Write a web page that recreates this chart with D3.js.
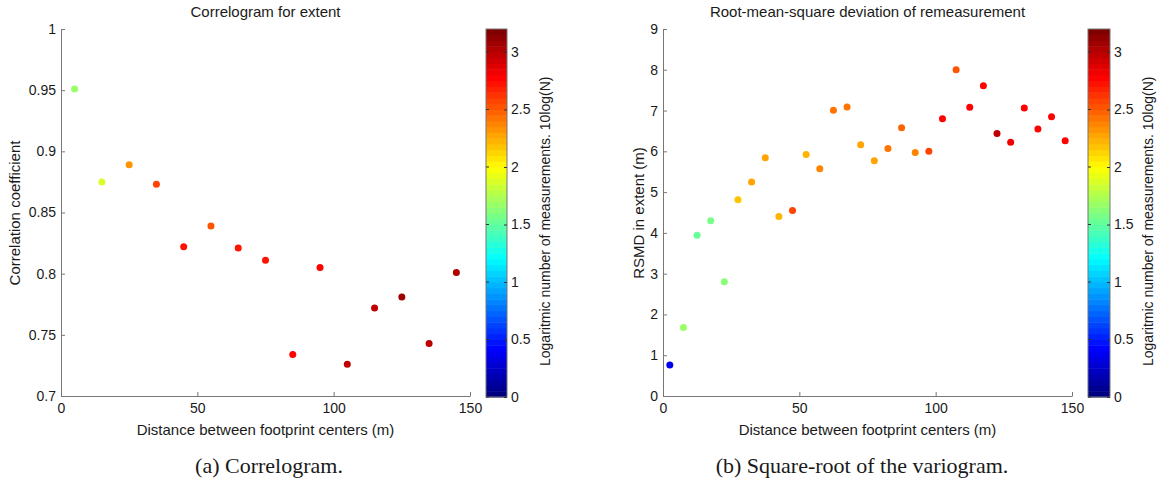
<!DOCTYPE html>
<html>
<head>
<meta charset="utf-8">
<script src="https://cdn.jsdelivr.net/npm/d3@7"></script>
<style>
  body { margin: 0; background: #fff; }
  svg text { font-family: "Liberation Sans", Arial, sans-serif; fill: #1a1a1a; }
  .caption { font-family: "Liberation Serif", "DejaVu Serif", serif; font-size: 22px; }
</style>
</head>
<body>
<svg id="fig" width="1163" height="491"></svg>
<script>
// (a) correlogram
var corrDist = [5, 15, 25, 35, 45, 55, 65, 75, 85, 95, 105, 115, 125, 135, 145];
var corrValue = [0.951, 0.875, 0.889, 0.873, 0.822, 0.839, 0.821, 0.811, 0.734, 0.805, 0.726, 0.772, 0.781, 0.743, 0.801];
var corrLogN = [1.68, 1.87, 2.32, 2.58, 2.7, 2.53, 2.7, 2.72, 2.76, 2.8, 2.96, 2.96, 3.08, 2.95, 3.0];

// (b) RMSD
var rmsdDist = [2.5, 7.5, 12.5, 17.5, 22.5, 27.5, 32.5, 37.5, 42.5, 47.5, 52.5, 57.5, 62.5, 67.5, 72.5,
                77.5, 82.5, 87.5, 92.5, 97.5, 102.5, 107.5, 112.5, 117.5, 122.5, 127.5, 132.5, 137.5, 142.5, 147.5];
var rmsdValue = [0.76, 1.68, 3.94, 4.30, 2.80, 4.81, 5.25, 5.84, 4.40, 4.55, 5.92, 5.57, 7.01, 7.09, 6.16,
                 5.77, 6.07, 6.58, 5.97, 6.00, 6.80, 8.00, 7.08, 7.61, 6.44, 6.22, 7.06, 6.55, 6.85, 6.26];
var rmsdLogN = [0.38, 1.68, 1.52, 1.55, 1.65, 2.16, 2.28, 2.3, 2.22, 2.58, 2.22, 2.4, 2.43, 2.43, 2.28,
                2.27, 2.43, 2.47, 2.38, 2.58, 2.75, 2.55, 2.75, 2.75, 2.95, 2.82, 2.78, 2.75, 2.8, 2.77];

var xTicks = [0, 50, 100, 150];
var corrTicks = [0.7, 0.75, 0.8, 0.85, 0.9, 0.95, 1];
var rmsdTicks = [0, 1, 2, 3, 4, 5, 6, 7, 8, 9];
var cbarTicks = [0, 0.5, 1, 1.5, 2, 2.5, 3];
var cbarDomain = [0, 3.2];

var svg = d3.select("#fig");

// matlab jet, 64 levels
function jet(v) {
  var n = 64;
  var i = Math.min(n - 1, Math.max(0, Math.floor((v - cbarDomain[0]) / (cbarDomain[1] - cbarDomain[0]) * n)));
  var t = i / (n - 1);
  function c(x) { return Math.round(255 * Math.max(0, Math.min(1, x))); }
  return d3.rgb(c(1.5 - Math.abs(4 * t - 3)), c(1.5 - Math.abs(4 * t - 2)), c(1.5 - Math.abs(4 * t - 1)));
}

function panel(p) {
  var x = d3.scaleLinear().domain([0, 150]).range([p.left, p.right]);
  var y = d3.scaleLinear().domain(p.yDomain).range([396, 29]);
  var g = svg.append("g");

  var xa = g.append("g")
    .attr("transform", "translate(0,396)")
    .call(d3.axisBottom(x).tickValues(xTicks).tickSizeInner(-4).tickSizeOuter(0).tickPadding(7).tickFormat(d3.format("d")));
  var ya = g.append("g")
    .attr("transform", "translate(" + p.left + ",0)")
    .call(d3.axisLeft(y).tickValues(p.yTicks).tickSizeInner(-4).tickSizeOuter(0).tickPadding(5).tickFormat(function(d) { return String(+d.toFixed(2)); }));
  [xa, ya].forEach(function(a) {
    a.selectAll("path, line").attr("stroke", "#777");
    a.selectAll("text").attr("font-size", "14px").attr("fill", "#1a1a1a")
      .attr("font-family", "Liberation Sans, Arial, sans-serif");
  });

  g.selectAll("circle.pt")
    .data(p.xs.map(function(d, i) { return { x: d, y: p.ys[i], c: p.cs[i] }; }))
    .enter().append("circle")
    .attr("class", "pt")
    .attr("cx", function(d) { return x(d.x); })
    .attr("cy", function(d) { return y(d.y); })
    .attr("r", 3.5)
    .attr("fill", function(d) { return jet(d.c); });

  g.append("text")
    .attr("x", (p.left + p.right) / 2).attr("y", 17)
    .attr("text-anchor", "middle").attr("font-size", "15px")
    .text(p.title);
  g.append("text")
    .attr("x", (p.left + p.right) / 2).attr("y", 435)
    .attr("text-anchor", "middle").attr("font-size", "15px")
    .text("Distance between footprint centers (m)");
  g.append("text")
    .attr("transform", "translate(" + p.ylabX + ",213) rotate(-90)")
    .attr("text-anchor", "middle").attr("font-size", "15px")
    .text(p.ylabel);

  // colorbar
  var cy = d3.scaleLinear().domain(cbarDomain).range([397, 29]);
  var steps = d3.range(64);
  var cb = g.append("g");
  cb.selectAll("rect")
    .data(steps).enter().append("rect")
    .attr("x", p.cbX)
    .attr("width", p.cbW)
    .attr("y", function(i) { return cy(cbarDomain[1] * (i + 1) / 64); })
    .attr("height", function(i) { return cy(cbarDomain[1] * i / 64) - cy(cbarDomain[1] * (i + 1) / 64) + 0.5; })
    .attr("fill", function(i) { return jet(cbarDomain[1] * (i + 0.5) / 64); });
  cb.append("rect")
    .attr("x", p.cbX).attr("y", 29).attr("width", p.cbW).attr("height", 368)
    .attr("fill", "none").attr("stroke", "#777");
  var ca = cb.append("g")
    .attr("transform", "translate(" + (p.cbX + p.cbW) + ",0)")
    .call(d3.axisRight(cy).tickValues(cbarTicks).tickSizeInner(-3).tickSizeOuter(0).tickPadding(4).tickFormat(function(d) { return String(d); }));
  ca.select(".domain").remove();
  ca.selectAll("line").attr("stroke", "#333");
  ca.selectAll("text").attr("font-size", "14px").attr("fill", "#1a1a1a")
    .attr("font-family", "Liberation Sans, Arial, sans-serif");
  cb.selectAll("line.lt")
    .data(cbarTicks).enter().append("line")
    .attr("class", "lt")
    .attr("x1", p.cbX).attr("x2", p.cbX + 3)
    .attr("y1", function(d) { return cy(d); }).attr("y2", function(d) { return cy(d); })
    .attr("stroke", "#333");
  g.append("text")
    .attr("transform", "translate(" + p.cbLabX + ",366) rotate(-90)")
    .attr("text-anchor", "start").attr("font-size", "14px")
    .text("Logaritmic number of measurements. 10log(N)");

  svg.append("text")
    .attr("class", "caption")
    .attr("x", p.capX).attr("y", 473)
    .attr("text-anchor", "middle")
    .text(p.caption);
}

panel({
  left: 61, right: 470, yDomain: [0.7, 1], yTicks: corrTicks,
  xs: corrDist, ys: corrValue, cs: corrLogN,
  title: "Correlogram for extent", ylabel: "Correlation coefficient", ylabX: 20,
  cbX: 486, cbW: 21, cbLabX: 550,
  caption: "(a) Correlogram.", capX: 269
});
panel({
  left: 663, right: 1072, yDomain: [0, 9], yTicks: rmsdTicks,
  xs: rmsdDist, ys: rmsdValue, cs: rmsdLogN,
  title: "Root-mean-square deviation of remeasurement", ylabel: "RSMD in extent (m)", ylabX: 644,
  cbX: 1088, cbW: 22, cbLabX: 1153,
  caption: "(b) Square-root of the variogram.", capX: 862
});
</script>
</body>
</html>
